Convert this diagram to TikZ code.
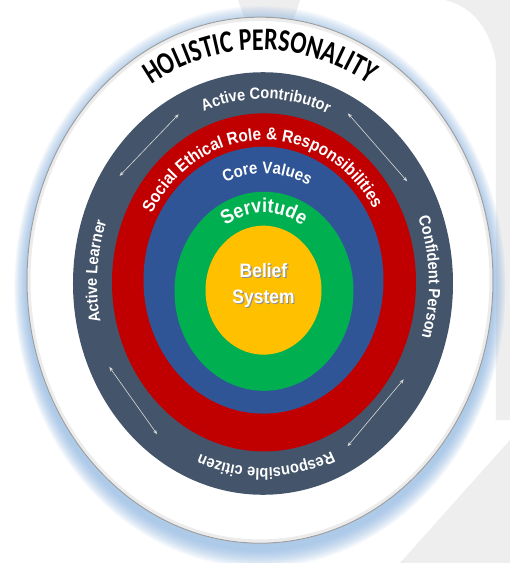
\documentclass[tikz,border=0pt]{standalone}
\usepackage{fontspec}
\setmainfont{Liberation Sans}[FakeStretch=0.9]
\newfontfamily\titlefamily{Carlito}[FakeStretch=0.76]
\usetikzlibrary{decorations.text,arrows.meta}
\definecolor{slate}{HTML}{44546A}
\definecolor{ringred}{HTML}{C00000}
\definecolor{ringblue}{HTML}{2F5597}
\definecolor{ringgreen}{HTML}{00B050}
\definecolor{coreyellow}{HTML}{FFC000}
\definecolor{glowblue}{HTML}{7FAEE0}
\definecolor{arrowgray}{HTML}{D9D9D9}
\definecolor{wmgray}{HTML}{EEEEEE}
\newcommand\ringtxt{\fontsize{16.2}{18}\selectfont\bfseries\color{white}}
\newcommand\redtxt{\fontsize{17.2}{20}\selectfont\bfseries\color{white}}
\newcommand\bluetxt{\fontsize{16.7}{19}\selectfont\bfseries\color{white}}
\newcommand\greentxt{\fontsize{20}{22}\selectfont\bfseries\color{white}}
\newcommand\titletxt{\titlefamily\fontsize{31.5}{34}\selectfont\bfseries\color{black}}
\begin{document}
\begin{tikzpicture}[x=1pt,y=1.112pt,
  arcarrow/.style={{Stealth[length=4.5pt,width=3.5pt]}-{Stealth[length=4.5pt,width=3.5pt]}, draw=arrowgray, line width=0.6pt},
  ringtext/.style={decorate, decoration={text along path, text align=center, text={#1}}},
  disc/.style={fill=#1, draw=none},
  centretext/.style={align=center, font=\fontsize{19.4}{26}\selectfont\bfseries}
]
\fill[white] (-263,-251.35) rectangle (247,254.95);
\useasboundingbox (-263,-251.35) rectangle (247,254.95);
% faint watermark shapes in the background
\fill[wmgray] (-25,254.95) -- (37,254.95) -- (30,235) -- (-17,235) -- cycle;
\fill[wmgray] (182,254.95) -- (247,254.95) -- (247,-122.8) -- (233,-122.8) -- (233,200) .. controls (225,235) and (205,250) .. (182,254.95) -- cycle;
\fill[wmgray] (137,-251.35) -- (247,-251.35) -- (247,-140.7) -- cycle;
% glow around the outer disc
\foreach \k in {1,...,16}{
  \fill[glowblue, opacity=0.055] (-3,-3) ellipse [x radius={233+0.8*\k}, y radius={236.5+\k}];
}
\fill[white] (-3,3) ellipse [x radius=233, y radius=236.5];
\draw[gray!15, line width=3pt] (-3,3) ellipse [x radius=231, y radius=234.5];
\draw[gray!75, line width=1pt] (-3,3) ellipse [x radius=233, y radius=236.5];
% rings
\fill[disc=slate] (0,0) circle [radius=190];
\fill[disc=ringred] (1,1) circle [radius=152];
\fill[disc=ringblue] (0.5,3) circle [radius=120];
\fill[disc=ringgreen] (1,-7) circle [radius=89.5];
\fill[disc=coreyellow] (0.5,-6) circle [radius=58];
% title
\path[ringtext={|\titletxt|HOLISTIC PERSONALITY}] plot[domain=140:40, samples=201] ({-3+207*cos(\x)},{3+207*sin(\x)});
% slate ring labels
\path[ringtext={|\ringtxt|Active Contributor}] plot[domain=135:43, samples=185] ({166*cos(\x)},{166*sin(\x)});
\path[ringtext={|\ringtxt|Confident Person}] plot[domain=48:-44, samples=185] ({166*cos(\x)},{166*sin(\x)});
\path[ringtext={|\ringtxt|Responsible citizen}] plot[domain=-43:-135, samples=185] ({166*cos(\x)},{166*sin(\x)});
\path[ringtext={|\ringtxt|Active Learner}] plot[domain=222:130, samples=185] ({166*cos(\x)},{166*sin(\x)});
% arrows
\coordinate (ul1) at (146:173);
\coordinate (ul2) at (119:174);
\coordinate (ur1) at (61:175);
\coordinate (ur2) at (32.5:171);
\coordinate (lr1) at (-31.5:165);
\coordinate (lr2) at (-60:169);
\coordinate (ll1) at (206:171);
\coordinate (ll2) at (232:172);
\draw[arcarrow] (ul1) -- (ul2);
\draw[arcarrow] (ur1) -- (ur2);
\draw[arcarrow] (lr1) -- (lr2);
\draw[arcarrow] (ll1) -- (ll2);
% red ring label
\path[ringtext={|\redtxt|Social Ethical Role {\&} Responsibilities}] plot[domain=181:1, samples=241] ({1+128*cos(\x)},{1+128*sin(\x)});
% blue ring label
\path[ringtext={|\bluetxt|Core Values}] plot[domain=163:13, samples=201] ({0.5+96*cos(\x)},{3+96*sin(\x)});
% green ring label
\path[ringtext={|\greentxt|Servitude}] plot[domain=170:10, samples=201] ({1+70.5*cos(\x)},{-7+70.5*sin(\x)});
% centre
\node[centretext, text=black!45] (beliefshadow) at (1.6,-2.5) {Belief\\System};
\node[centretext, text=white] (belief) at (0.5,-1.5) {Belief\\System};
\end{tikzpicture}
\end{document}
